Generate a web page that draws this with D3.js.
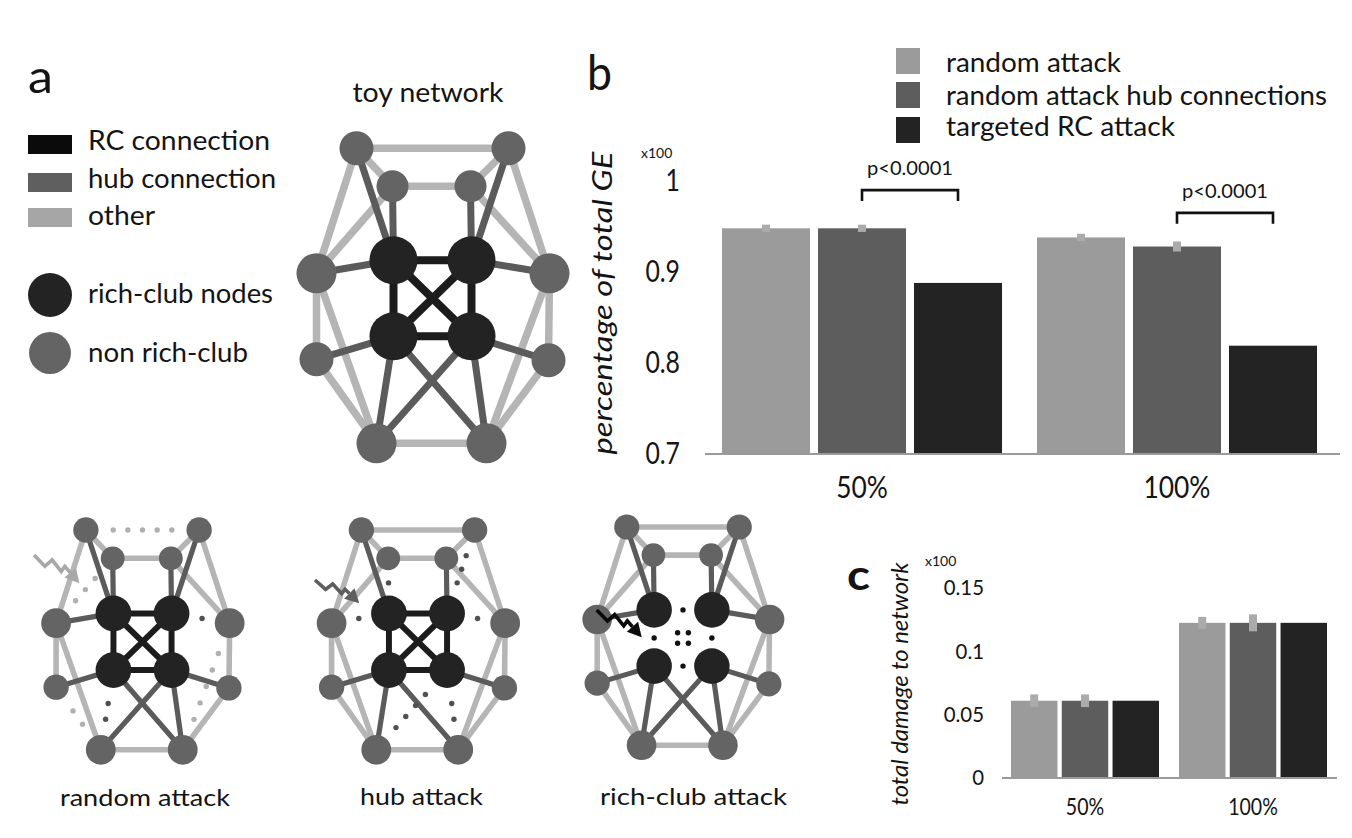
<!DOCTYPE html>
<html><head><meta charset="utf-8">
<script src="https://cdn.jsdelivr.net/npm/d3@7"></script>
<style>body{margin:0;background:#fff}svg{display:block}</style>
</head><body><svg id="fig" width="1352" height="838"></svg>
<script>
// ---------------- data ----------------
const groups = ["50%", "100%"];
const seriesNames = ["random attack", "random attack hub connections", "targeted RC attack"];
const seriesColors = ["#9b9b9b", "#5d5d5d", "#232323"];
const geValues = [[0.948, 0.948, 0.888], [0.938, 0.928, 0.819]];
const geErrors = [[0.004, 0.004, 0], [0.004, 0.0055, 0]];
const geTicks = [0.7, 0.8, 0.9, 1];
const geSigLevels = [0.99, 0.965];
const pLabels = ["p<0.0001", "p<0.0001"];
const damageValues = [[0.061, 0.061, 0.061], [0.1225, 0.1225, 0.1225]];
const damageErrors = [[0.005, 0.005, 0], [0.0047, 0.0067, 0]];
const damageTicks = [0, 0.05, 0.1, 0.15];

const legendEdgeLabels = ["RC connection", "hub connection", "other"];
const legendEdgeColors = ["#0b0b0b", "#5f5f5f", "#a6a6a6"];
const legendNodeLabels = ["rich-club nodes", "non rich-club"];

// toy-network template (node order)
const nodeIds  = ["OTL","OTR","ITL","ITR","RTL","RTR","RBL","RBR","ML","MR","LL","LR","BL","BR"];
const nodeTX   = [-76, 76, -40, 38, -39, 39, -39, 39, -116, 117, -116, 116, -56, 54];
const nodeTY   = [0, 0, 38, 38, 112, 112, 188, 188, 125, 125, 211, 212, 295, 295];
const nodeTR   = [17, 17, 16, 16, 24, 24, 24, 24, 20, 20, 17, 17, 20, 20];
const nodeRich = [0, 0, 0, 0, 1, 1, 1, 1, 0, 0, 0, 0, 0, 0];
const edgesOther = [["OTL","OTR"],["ITL","ITR"],["BL","BR"],["OTL","ITL"],["OTR","ITR"],["OTL","ML"],["ITL","ML"],
  ["OTR","MR"],["ITR","MR"],["ML","LL"],["MR","LR"],["ML","BL"],["MR","BR"],["LL","BL"],["LR","BR"]];
const edgesHub = [["OTL","RTL"],["ITL","RTL"],["OTR","RTR"],["ITR","RTR"],["ML","RTL"],["MR","RTR"],["LL","RBL"],
  ["LR","RBR"],["BL","RBL"],["BL","RBR"],["BR","RBR"],["BR","RBL"]];
const edgesRC = [["RTL","RTR"],["RBL","RBR"],["RTL","RBL"],["RTR","RBR"],["RTL","RBR"],["RTR","RBL"]];

const networkTitles = ["toy network", "random attack", "hub attack", "rich-club attack"];
const networkRemoved = [
  [],
  [["OTL","OTR",5],["ITL","ML",3],["LL","BL",2],["BL","RBL",2],["MR","RTR",1],["MR","BR",5]],
  [["ITL","RTL",1],["ML","RTL",1],["OTR","RTR",3],["MR","RTR",1],["BL","RBR",4],["BR","RBR",2]],
  [["RTL","RTR",1],["RBL","RBR",1],["RTL","RBL",1],["RTR","RBR",1],["RTL","RBR",2],["RTR","RBL",2]]
];
// attack arrows (template coordinates: start, tip)
const arrowStart = [null, [-145.6, 33.6], [-138.3, 67.1], [-116.6, 112.2]];
const arrowTip   = [null, [-84.8, 71.5], [-78.8, 98.4], [-55.8, 149]];
const arrowColors = [null, "#a8a8a8", "#5e5e5e", "#0a0a0a"];

// ---------------- style/layout ----------------
const FONT = "Lato, 'Open Sans', sans-serif";
const TXT = "#141414";
const edgeColor = {other: "#b5b5b5", hub: "#5b5b5b", rc: "#1c1c1c"};
const edgeWidth = {other: 7.5, hub: 7, rc: 8};
const nodeColor = ["#646464", "#232323"];
const netLayout = [
  {cx: 432.5, top: 148.3, k: 1,     tx: 428,   ty: 102, tlen: 151, ts: 27},
  {cx: 142.5, top: 530,   k: 0.745, tx: 145,   ty: 806, tlen: 170, ts: 24},
  {cx: 418,   top: 530,   k: 0.745, tx: 421.5, ty: 805, tlen: 123, ts: 24},
  {cx: 683,   top: 527,   k: 0.74,  tx: 693.5, ty: 805, tlen: 187, ts: 24}
];

const svg = d3.select("#fig");
svg.append("rect").attr("width", 1352).attr("height", 838).attr("fill", "#fff");

function label(g, s, x, y, size, len, anchor, extra) {
  const t = g.append("text").attr("x", x).attr("y", y).text(s)
    .attr("font-family", FONT).attr("font-size", size).attr("fill", TXT)
    .attr("text-anchor", anchor || "start");
  if (len) t.attr("textLength", len).attr("lengthAdjust", "spacingAndGlyphs");
  if (extra) Object.entries(extra).forEach(([k, v]) => t.attr(k, v));
  return t;
}
function squeeze(sel, f) {
  sel.each(function () {
    const w = this.getComputedTextLength();
    d3.select(this).attr("textLength", w * f).attr("lengthAdjust", "spacingAndGlyphs");
  });
}

// ---------------- panel a ----------------
const pa = svg.append("g");
label(pa, "a", 28, 93, 46, 25);
legendEdgeLabels.forEach((s, i) => {
  const ys = [135, 173, 208];
  pa.append("rect").attr("x", 28).attr("y", ys[i]).attr("width", 44).attr("height", 19).attr("fill", legendEdgeColors[i]);
  label(pa, s, 88, [150, 188, 225][i], 27, [182, 188, 67][i]);
});
legendNodeLabels.forEach((s, i) => {
  pa.append("circle").attr("cx", 50).attr("cy", [295, 353][i]).attr("r", [22, 21][i]).attr("fill", nodeColor[1 - i]);
  label(pa, s, 88, [303, 362][i], 27, [185, 160][i]);
});

const idx = Object.fromEntries(nodeIds.map((d, i) => [d, i]));
networkTitles.forEach((title, ni) => {
  const L = netLayout[ni];
  const sx = d3.scaleLinear().domain([0, 1]).range([L.cx, L.cx + L.k]);
  const sy = d3.scaleLinear().domain([0, 1]).range([L.top, L.top + L.k]);
  const nodes = nodeIds.map((id, i) => ({id, x: sx(nodeTX[i]), y: sy(nodeTY[i]), r: nodeTR[i] * L.k, rich: nodeRich[i]}));
  const removed = new Map(networkRemoved[ni].map(([a, b, n]) => [a + "-" + b, n]));
  const g = svg.append("g");
  const types = [["other", edgesOther], ["hub", edgesHub], ["rc", edgesRC]];
  const dots = [];
  types.forEach(([type, list]) => {
    const kept = list.filter(([a, b]) => !removed.has(a + "-" + b));
    g.selectAll(null).data(kept).join("line")
      .attr("x1", d => nodes[idx[d[0]]].x).attr("y1", d => nodes[idx[d[0]]].y)
      .attr("x2", d => nodes[idx[d[1]]].x).attr("y2", d => nodes[idx[d[1]]].y)
      .attr("stroke", edgeColor[type]).attr("stroke-width", edgeWidth[type] * L.k);
    list.filter(([a, b]) => removed.has(a + "-" + b)).forEach(([a, b]) => {
      const n = removed.get(a + "-" + b);
      const A = nodes[idx[a]], B = nodes[idx[b]];
      const dx = B.x - A.x, dy = B.y - A.y, len = Math.hypot(dx, dy);
      const ux = dx / len, uy = dy / len;
      const s0 = A.r, s1 = len - B.r;
      for (let i = 1; i <= n; i++) {
        const s = s0 + (s1 - s0) * i / (n + 1);
        dots.push({x: A.x + ux * s, y: A.y + uy * s, type});
      }
    });
  });
  g.selectAll(null).data(dots).join("circle")
    .attr("cx", d => d.x).attr("cy", d => d.y).attr("r", 2.7)
    .attr("fill", d => d.type === "other" ? "#b0b0b0" : d.type === "hub" ? "#505050" : "#111");
  g.selectAll(null).data(nodes).join("circle")
    .attr("cx", d => d.x).attr("cy", d => d.y).attr("r", d => d.r)
    .attr("fill", d => nodeColor[d.rich]);
  if (arrowStart[ni]) {
    const S = [sx(arrowStart[ni][0]), sy(arrowStart[ni][1])];
    const T = [sx(arrowTip[ni][0]), sy(arrowTip[ni][1])];
    const vx = T[0] - S[0], vy = T[1] - S[1];
    const fr = [[0, 0], [0.24, 0.40], [0.40, 0.17], [0.60, 0.58], [0.68, 0.40]];
    const pts = fr.map(([a, b]) => [S[0] + a * vx, S[1] + b * vy]);
    const P = pts[pts.length - 1];
    let hx = T[0] - P[0], hy = T[1] - P[1];
    const hl = Math.hypot(hx, hy); hx /= hl; hy /= hl;
    const base = [T[0] - 14 * hx, T[1] - 14 * hy];
    pts.push(base);
    g.append("path").attr("d", d3.line()(pts)).attr("fill", "none")
      .attr("stroke", arrowColors[ni]).attr("stroke-width", 3.6).attr("stroke-linejoin", "miter");
    g.append("path").attr("d", d3.line()([T, [base[0] - 7.5 * hy, base[1] + 7.5 * hx], [base[0] + 7.5 * hy, base[1] - 7.5 * hx]]) + "Z")
      .attr("fill", arrowColors[ni]);
  }
  label(svg, title, L.tx, L.ty, L.ts, L.tlen, "middle");
});

// ---------------- panel b ----------------
const pb = svg.append("g");
label(pb, "b", 587, 90, 48, 25);
seriesNames.forEach((s, i) => {
  pb.append("rect").attr("x", 896).attr("y", [48, 82, 117][i]).attr("width", 24).attr("height", 26).attr("fill", seriesColors[i]);
  label(pb, s, 946, [72, 105, 136][i], 26, [175, 381, 229][i]);
});
const yb = d3.scaleLinear().domain([0.7, 1.0]).range([454, 181]);
const xb = d3.scaleBand().domain(groups).range([722, 1317]).paddingInner(0.111);
const xbi = d3.scaleBand().domain(d3.range(3)).range([0, xb.bandwidth()]).paddingInner(0.083);
groups.forEach((gname, gi) => {
  geValues[gi].forEach((v, si) => {
    const x0 = xb(gname) + xbi(si);
    pb.append("rect").attr("x", x0).attr("y", yb(v)).attr("width", xbi.bandwidth()).attr("height", yb(0.7) - yb(v))
      .attr("fill", seriesColors[si]);
    const e = geErrors[gi][si];
    if (e > 0) pb.append("rect").attr("x", x0 + xbi.bandwidth() / 2 - 4).attr("y", yb(v + e)).attr("width", 8)
      .attr("height", yb(v - e) - yb(v + e)).attr("fill", "#ababab");
  });
  const c1 = xb(gname) + xbi(1) + xbi.bandwidth() / 2, c2 = xb(gname) + xbi(2) + xbi.bandwidth() / 2;
  const yt = yb(geSigLevels[gi]);
  pb.append("path").attr("d", `M${c1},${yt + 11}V${yt}H${c2}V${yt + 11}`).attr("fill", "none")
    .attr("stroke", "#111").attr("stroke-width", 2.6);
  label(pb, pLabels[gi], (c1 + c2) / 2, yt - 15, 19, 86, "middle");
  label(pb, gname, xb(gname) + xb.bandwidth() / 2, 498, 31, null, "middle").call(squeeze, 0.85);
});
pb.append("line").attr("x1", 705).attr("x2", 1340).attr("y1", yb(0.7)).attr("y2", yb(0.7))
  .attr("stroke", "#9a9a9a").attr("stroke-width", 2);
const axB = pb.append("g").attr("transform", "translate(680,0)")
  .call(d3.axisLeft(yb).tickValues(geTicks).tickSize(0).tickPadding(0).tickFormat(d => d === 1 ? "1" : d.toFixed(1)));
axB.select(".domain").remove();
axB.selectAll("text").attr("font-family", FONT).attr("font-size", 31).attr("fill", TXT).call(squeeze, 0.8);
label(pb, "x100", 641, 158, 14);
label(pb, "percentage of total GE", 0, 0, 27, 303, "middle",
  {transform: "translate(612,303) rotate(-90)", "font-style": "italic"});

// ---------------- panel c ----------------
const pc = svg.append("g");
label(pc, "c", 847, 590, 42, 23, "start", {"font-weight": "bold"});
const yc = d3.scaleLinear().domain([0, 0.15]).range([778, 588]);
const xc = d3.scaleBand().domain(groups).range([1011, 1327]).paddingInner(0.119);
const xci = d3.scaleBand().domain(d3.range(3)).range([0, xc.bandwidth()]).paddingInner(0.085);
groups.forEach((gname, gi) => {
  damageValues[gi].forEach((v, si) => {
    const x0 = xc(gname) + xci(si);
    pc.append("rect").attr("x", x0).attr("y", yc(v)).attr("width", xci.bandwidth()).attr("height", yc(0) - yc(v))
      .attr("fill", seriesColors[si]);
    const e = damageErrors[gi][si];
    if (e > 0) pc.append("rect").attr("x", x0 + xci.bandwidth() / 2 - 4).attr("y", yc(v + e)).attr("width", 8)
      .attr("height", yc(v - e) - yc(v + e)).attr("fill", "#ababab");
  });
  label(pc, gname, xc(gname) + xc.bandwidth() / 2, 815, 23, null, "middle").call(squeeze, 0.85);
});
pc.append("line").attr("x1", 1002).attr("x2", 1337).attr("y1", yc(0)).attr("y2", yc(0))
  .attr("stroke", "#9a9a9a").attr("stroke-width", 2);
const axC = pc.append("g").attr("transform", "translate(984,0)")
  .call(d3.axisLeft(yc).tickValues(damageTicks).tickSize(0).tickPadding(0).tickFormat(d => String(+d.toFixed(2))));
axC.select(".domain").remove();
axC.selectAll("text").attr("font-family", FONT).attr("font-size", 21).attr("fill", TXT).call(squeeze, 0.97);
label(pc, "x100", 925, 566, 14);
label(pc, "total damage to network", 0, 0, 23, 243, "middle",
  {transform: "translate(908,684) rotate(-90)", "font-style": "italic"});
</script></body></html>
